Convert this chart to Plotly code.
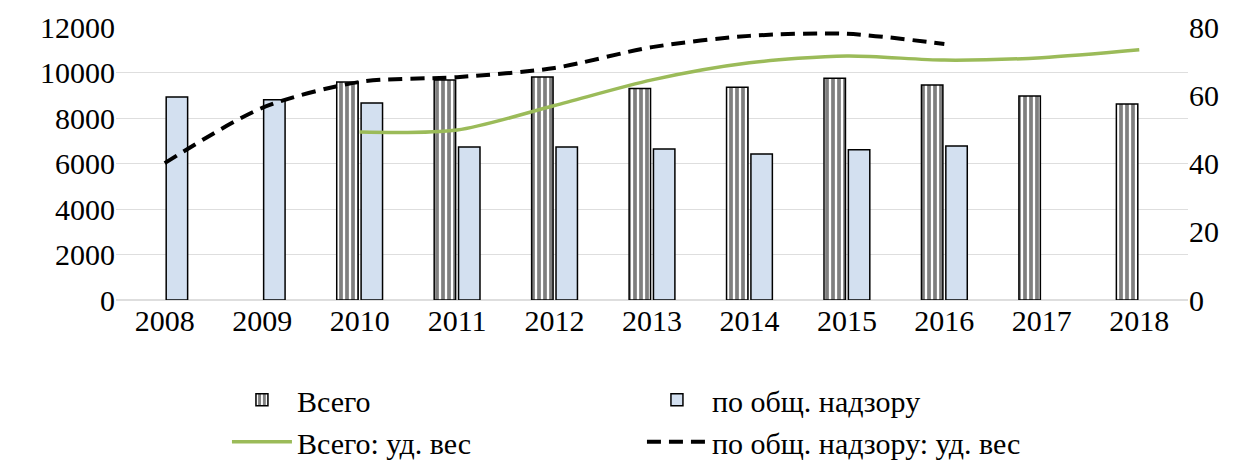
import plotly.graph_objects as go

years = ["2008", "2009", "2010", "2011", "2012", "2013", "2014", "2015", "2016", "2017", "2018"]
vsego = [None, None, 9580, 9670, 9800, 9300, 9350, 9750, 9450, 8970, 8620]
nadzor = [8920, 8800, 8660, 6725, 6720, 6640, 6420, 6600, 6770, None, None]
vsego_share = [None, None, 49.2, 49.8, 57.0, 64.5, 69.5, 71.5, 70.3, 71.0, 73.3]
nadzor_share = [40.1, 56.3, 63.9, 65.3, 68.0, 74.1, 77.4, 78.0, 75.0, None, None]

FONT = "Liberation Serif"
FS = 30

fig = go.Figure()
fig.add_trace(go.Bar(
    x=years, y=vsego, name="Всего",
    marker=dict(color="white", line=dict(color="black", width=1.5),
                pattern=dict(shape="|", fgcolor="black", bgcolor="white", size=6, solidity=0.62)),
))
fig.add_trace(go.Bar(
    x=years, y=nadzor, name="по общ. надзору",
    marker=dict(color="#d3e0f0", line=dict(color="black", width=1.5)),
))
fig.add_trace(go.Scatter(
    x=years, y=vsego_share, name="Всего: уд. вес", yaxis="y2",
    mode="lines", line=dict(color="#9bbb59", width=3.5, shape="spline", smoothing=0.8),
))
fig.add_trace(go.Scatter(
    x=years, y=nadzor_share, name="по общ. надзору: уд. вес", yaxis="y2",
    mode="lines", line=dict(color="black", width=4, dash="14px,8px", shape="spline", smoothing=0.8),
))

fig.update_layout(
    width=1243, height=466,
    margin=dict(l=108, r=63, t=19, b=174, autoexpand=False),
    paper_bgcolor="white", plot_bgcolor="white",
    font=dict(family=FONT, size=FS, color="black"),
    barmode="group", bargap=0.5, bargroupgap=0.12,
    xaxis=dict(showgrid=False, showline=False, ticks="", tickfont=dict(size=FS)),
    yaxis=dict(range=[0, 12000], dtick=2000, tickformat="d", showgrid=True,
               gridcolor="#dedede", gridwidth=1, zeroline=True, zerolinecolor="#dedede",
               ticks="", tickfont=dict(size=FS)),
    yaxis2=dict(range=[0, 80], dtick=20, overlaying="y", side="right",
                showgrid=False, zeroline=False, ticks="", tickfont=dict(size=FS)),
    legend=dict(orientation="h", x=0.1035, y=0.215, yref="container", xanchor="left", yanchor="top",
                entrywidth=340, entrywidthmode="pixels", font=dict(size=FS),
                traceorder="normal", itemwidth=60, tracegroupgap=0),
    showlegend=True,
)

fig.write_html("out.html")
